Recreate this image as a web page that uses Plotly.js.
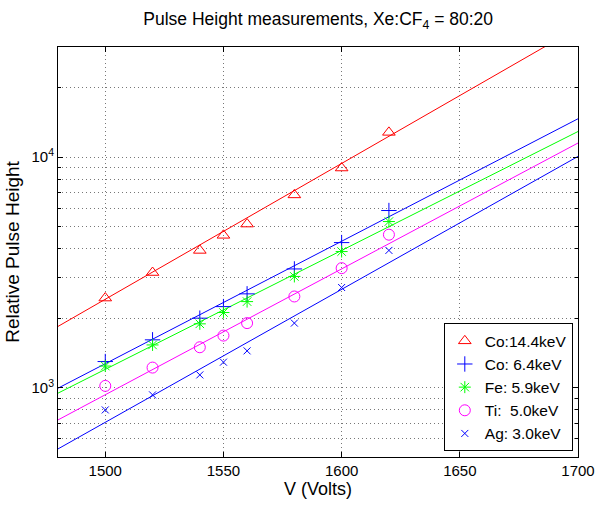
<!DOCTYPE html>
<html>
<head>
<meta charset="utf-8">
<script src="https://cdn.plot.ly/plotly-3.0.1.min.js"></script>
<style>html,body{margin:0;padding:0;background:#fff;}</style>
</head>
<body>
<div id="chart" style="width:597px;height:506px;"></div>
<script>
// Measured data
const voltages = [1500, 1520, 1540, 1550, 1560, 1580, 1600, 1620];
const co144 = [2445, 3155, 3935, 4575, 5120, 6850, 8960, 12790];
const co64  = [1297, 1611, 2000, 2245, 2550, 3270, 4255, 5860];
const fe59  = [1240, 1531, 1890, 2116, 2360, 3034, 3890, 5250];
const ti50  = [1017, 1221, 1496, 1681, 1904, 2484, 3296, 4604];
const ag30  = [800, 930, 1135, 1289, 1443, 1904, 2717, 3935];

// Fit lines (read at the plot edges)
const fitV = [1480, 1700];
const fitCo144 = [1842, 36400];
const fitCo64  = [994, 14650];
const fitFe59  = [946, 12900];
const fitTi50  = [724, 11500];
const fitAg30  = [542, 10060];

const seriesNames = ['Co:14.4keV', 'Co: 6.4keV', 'Fe: 5.9keV', 'Ti:  5.0keV', 'Ag: 3.0keV'];
const xTicks = [1500, 1550, 1600, 1650, 1700];
const yTicks = [1000, 10000];
const yTickText = ['10<sup>3</sup>', '10<sup>4</sup>'];
const yMinor = [500, 600, 700, 800, 900, 2000, 3000, 4000, 5000, 6000, 7000, 8000, 9000, 20000, 30000];

const colors = ['#ff0000', '#0000ff', '#00ff00', '#ff00ff', '#0000ff'];
const symbols = ['triangle-up-open', 'cross-thin-open', 'asterisk-open', 'circle-open', 'x-thin-open'];
const sizes = [11, 11, 10, 11, 7];
const dataSets = [co144, co64, fe59, ti50, ag30];
const fitSets = [fitCo144, fitCo64, fitFe59, fitTi50, fitAg30];

const traces = [];
for (let i = 0; i < 5; i++) {
  traces.push({
    x: fitV, y: fitSets[i], mode: 'lines', showlegend: false, hoverinfo: 'skip',
    line: {color: colors[i], width: 1}
  });
}
for (let i = 0; i < 5; i++) {
  traces.push({
    x: voltages, y: dataSets[i], mode: 'markers', name: seriesNames[i],
    marker: {symbol: symbols[i], size: sizes[i], color: colors[i], line: {color: colors[i], width: 1}}
  });
}

const font = {family: '"Liberation Sans", Arial, Helvetica, sans-serif', color: '#000'};

const layout = {
  width: 597, height: 506,
  margin: {l: 58, r: 19, t: 47, b: 49},
  paper_bgcolor: '#fff', plot_bgcolor: '#fff',
  font: Object.assign({size: 15}, font),
  title: {text: 'Pulse Height measurements, Xe:CF<sub>4</sub> = 80:20',
          font: Object.assign({size: 17.5}, font), x: 0.533, xanchor: 'center', y: 0.963, yanchor: 'middle'},
  xaxis: {
    range: [1480, 1700], tickvals: xTicks, ticktext: xTicks.map(String),
    ticks: 'inside', ticklen: 5, tickcolor: '#000',
    showline: true, linecolor: '#000', linewidth: 1, mirror: 'allticks',
    showgrid: true, gridcolor: '#777', griddash: '1px,3px', gridwidth: 1,
    zeroline: false, tickfont: Object.assign({size: 15}, font),
    title: {text: 'V (Volts)', font: Object.assign({size: 18}, font), standoff: 4}
  },
  yaxis: {
    type: 'log', range: [Math.log10(500), Math.log10(30000)],
    tickvals: yTicks, ticktext: yTickText,
    ticks: 'inside', ticklen: 5, tickcolor: '#000',
    showline: true, linecolor: '#000', linewidth: 1, mirror: 'allticks',
    showgrid: true, gridcolor: '#777', griddash: '1px,3px', gridwidth: 1,
    minor: {tickvals: yMinor, ticks: 'inside', ticklen: 3, tickcolor: '#000',
            showgrid: true, gridcolor: '#777', griddash: '1px,3px', gridwidth: 1},
    zeroline: false, tickfont: Object.assign({size: 15}, font),
    title: {text: 'Relative Pulse Height', font: Object.assign({size: 19}, font), standoff: 6}
  },
  legend: {
    x: 0.99, xanchor: 'right', y: 0.014, yanchor: 'bottom',
    bgcolor: '#fff', bordercolor: '#000', borderwidth: 1,
    font: Object.assign({size: 15.5}, font), tracegroupgap: 0
  },
  showlegend: true
};

Plotly.newPlot('chart', traces, layout, {displayModeBar: false, staticPlot: true});
</script>
</body>
</html>
